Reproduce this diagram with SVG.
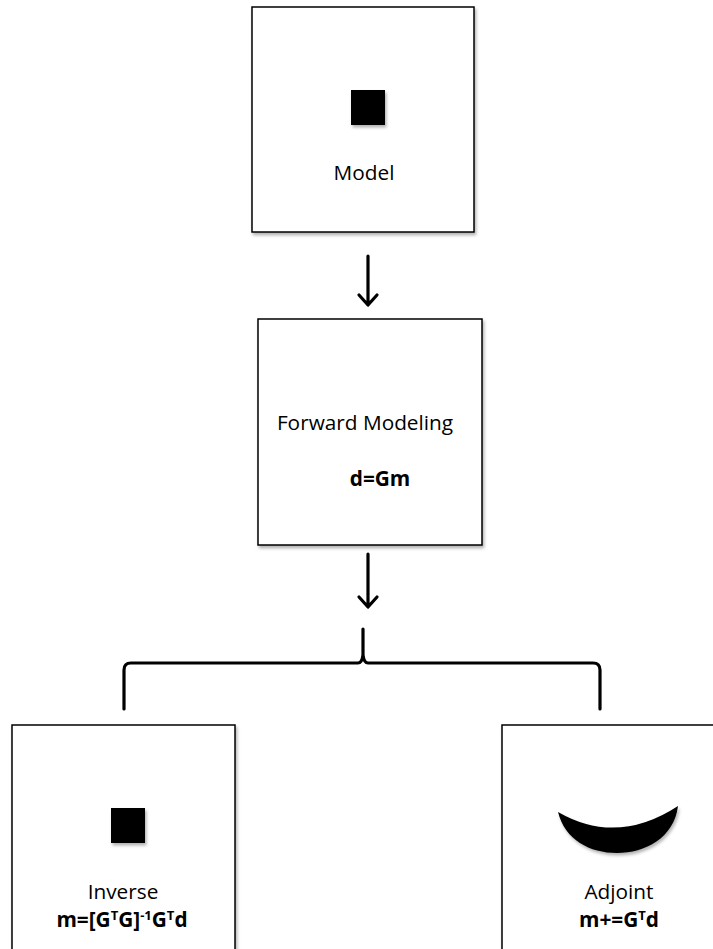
<svg xmlns="http://www.w3.org/2000/svg" width="713" height="949" viewBox="0 0 713 949">
<style>
.box{fill:#fff;stroke:#000;stroke-width:1.5;filter:url(#sh)}
.t{font-family:"Open Sans","Liberation Sans",sans-serif;font-size:20.8px;fill:#000;text-anchor:middle}
.b{font-weight:bold}
.line{fill:none;stroke:#000;stroke-width:3.2;stroke-linecap:round;stroke-linejoin:round}
.shape{fill:#000;filter:url(#sh)}
</style>
<defs>
<filter id="sh" x="-10%" y="-10%" width="130%" height="130%">
<feDropShadow dx="1.5" dy="2.5" stdDeviation="1.8" flood-color="#000" flood-opacity="0.3"/>
</filter>
</defs>
<rect width="713" height="949" fill="#fff"/>
<g id="model">
<rect class="box" x="252" y="7" width="222" height="225"/>
<rect class="shape" x="351" y="90" width="34" height="35"/>
<text class="t" x="364" y="180">Model</text>
</g>
<g id="forward">
<rect class="box" x="258" y="319" width="224" height="226"/>
<text class="t" x="365" y="430">Forward Modeling</text>
<text class="t b" x="380" y="486">d=Gm</text>
</g>
<g id="inverse">
<rect class="box" x="12" y="725" width="223" height="240"/>
<rect class="shape" x="111" y="808" width="34" height="35"/>
<text class="t" x="123" y="899">Inverse</text>
<text class="t b" x="122" y="927">m=[G<tspan font-size="13" dy="-7">T</tspan><tspan dy="7">G]</tspan><tspan font-size="13" dy="-7">-1</tspan><tspan dy="7">G</tspan><tspan font-size="13" dy="-7">T</tspan><tspan dy="7">d</tspan></text>
</g>
<g id="adjoint">
<rect class="box" x="502" y="725" width="240" height="240"/>
<path class="shape" d="M558,812 Q617,846 678,806 C674,838 645,853 617,853 C590,853 565,840 558,812 Z"/>
<text class="t" x="619" y="899">Adjoint</text>
<text class="t b" x="619" y="927">m+=G<tspan font-size="13" dy="-7">T</tspan><tspan dy="7">d</tspan></text>
</g>
<g id="connectors">
<path class="line" d="M368,256 V304 M359,295 L368,305 L377,295"/>
<path class="line" d="M368,554 V606 M359,597 L368,607 L377,597"/>
<path class="line" stroke-width="3.5" d="M124,709 V670 Q124,663 131,663 H358 Q362,663 363,655 V629 M363,629 V655 Q364,663 368,663 H593 Q600,663 600,670 V709"/>
</g>
</svg>
